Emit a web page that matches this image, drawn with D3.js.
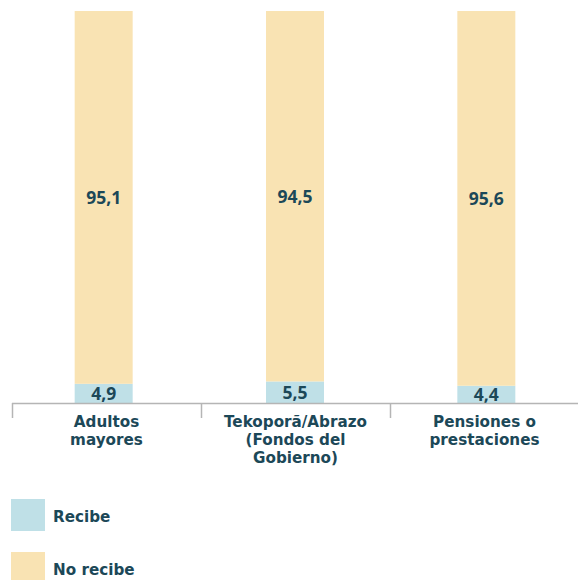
<!DOCTYPE html>
<html><head><meta charset="utf-8">
<script src="https://cdn.jsdelivr.net/npm/d3@7"></script>
<style>body{margin:0;background:#fff;}text{font-family:"Open Sans",Lato,sans-serif;font-weight:700;fill:#1c4858;}
text.lab{font-family:"DejaVu Sans",sans-serif;}</style>
</head><body><svg id="c" width="578" height="580"></svg>
<script>
const categories = [["Adultos","mayores"],["Tekoporã/Abrazo","(Fondos del","Gobierno)"],["Pensiones o","prestaciones"]];
const recibe = [4.9, 5.5, 4.4];
const noRecibe = [95.1, 94.5, 95.6];
const seriesNames = ["Recibe","No recibe"];
const colors = ["#bfe0e7","#f9e3b3"];

const svg = d3.select("#c");
const ids = categories.map((c,i)=>i);
const x = d3.scaleBand().domain(ids).range([12, 579]);
const xb = d3.scaleBand().domain(ids).range([8, 582]);
const y = d3.scaleLinear().domain([0,100]).range([403, 11]);
const barW = 58;

const data = ids.map(i=>({i, Recibe: recibe[i], "No recibe": noRecibe[i]}));
const stack = d3.stack().keys(seriesNames)(data);

stack.forEach((s,si)=>{
  const g = svg.append("g");
  g.selectAll("rect").data(s).enter().append("rect")
    .attr("x", d=>xb(d.data.i)+xb.bandwidth()/2-barW/2)
    .attr("width", barW)
    .attr("y", d=>y(d[1]))
    .attr("height", d=>y(d[0])-y(d[1]))
    .attr("fill", colors[si]);
  g.selectAll("text").data(s).enter().append("text")
    .attr("x", d=>xb(d.data.i)+xb.bandwidth()/2)
    .attr("y", d=>(y(d[0])+y(d[1]))/2)
    .attr("dy","0.36em")
    .attr("text-anchor","middle")
    .style("font-size","17.5px")
    .text(d=>d3.format(".1f")(d[1]-d[0]).replace(".",","));
});

// axis
const ax = svg.append("g");
ax.append("line").attr("x1",12).attr("x2",578).attr("y1",403.5).attr("y2",403.5).attr("stroke","#b5b5b5").attr("stroke-width",1.5);
ids.forEach(i=>{
  ax.append("line").attr("x1",x(i)+0.5).attr("x2",x(i)+0.5).attr("y1",403).attr("y2",418).attr("stroke","#b5b5b5").attr("stroke-width",1.5);
});
ids.forEach(i=>{
  const t = ax.append("text").attr("class","lab").attr("text-anchor","middle").style("font-size","15.2px")
    .attr("x", x(i)+x.bandwidth()/2).attr("y", 427);
  categories[i].forEach((ln,k)=>{
    t.append("tspan").attr("x", x(i)+x.bandwidth()/2).attr("y", 427+k*18).text(ln);
  });
});

// legend
const lg = svg.append("g");
seriesNames.forEach((n,k)=>{
  lg.append("rect").attr("x",11).attr("y",499+k*53).attr("width",34).attr("height",32).attr("fill",colors[k]);
  lg.append("text").attr("class","lab").attr("x",53).attr("y",522+k*53).style("font-size","15.2px").text(n);
});
</script></body></html>
